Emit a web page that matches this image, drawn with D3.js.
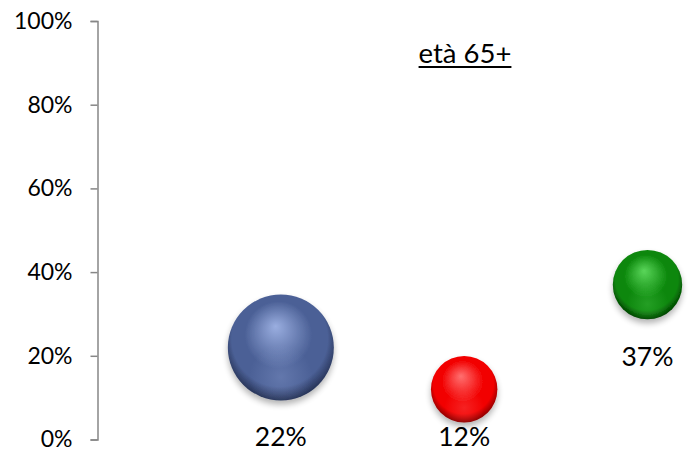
<!DOCTYPE html>
<html>
<head>
<meta charset="utf-8">
<script src="https://cdn.jsdelivr.net/npm/d3@7"></script>
<style>
  html, body { margin: 0; padding: 0; background: #fff; }
  svg { display: block; font-family: Lato, "Open Sans", sans-serif; }
</style>
</head>
<body>
<svg id="chart" width="690" height="452"></svg>
<script>
// Share of respondents aged 65+ per group, drawn as 3-D bubbles
const groups = ["A", "B", "C"];
const xValues = [1, 2, 3];
const shares = [0.22, 0.12, 0.37];
const bubbleSizes = [5.6, 2.2, 2.4];
const bubbleColors = [
  { light: "#9aaee0", base: "#4b6096", dark: "#1c2644" },
  { light: "#ff7070", base: "#f20000", dark: "#6e0000" },
  { light: "#5ad65a", base: "#0b870b", dark: "#002e00" }
];
const yTicks = [0, 0.2, 0.4, 0.6, 0.8, 1];
const title = "età 65+";

const svg = d3.select("#chart");

const x = d3.scaleLinear().domain([0, 3]).range([97.5, 647.5]);
const y = d3.scaleLinear().domain([0, 1]).range([439.5, 21]);
const r = d3.scaleSqrt().domain([0, d3.max(bubbleSizes)]).range([0, 53]);
const pct = d3.format(".0%");

// Defs: sphere shading and a soft drop shadow
const defs = svg.append("defs");
const shadow = defs.append("filter").attr("id", "shadow")
  .attr("x", "-30%").attr("y", "-30%").attr("width", "160%").attr("height", "170%");
shadow.append("feGaussianBlur").attr("in", "SourceAlpha").attr("stdDeviation", 3).attr("result", "b");
shadow.append("feOffset").attr("in", "b").attr("dy", 4).attr("result", "o");
shadow.append("feComponentTransfer").attr("in", "o").attr("result", "s")
  .append("feFuncA").attr("type", "linear").attr("slope", 0.3);
const merge = shadow.append("feMerge");
merge.append("feMergeNode").attr("in", "s");
merge.append("feMergeNode").attr("in", "SourceGraphic");

bubbleColors.forEach((c, i) => {
  const g = defs.append("radialGradient").attr("id", "sphere" + i)
    .attr("cx", "50%").attr("cy", "45%").attr("r", "58%")
    .attr("fx", "45%").attr("fy", "30%");
  g.append("stop").attr("offset", "0%").attr("stop-color", c.light);
  g.append("stop").attr("offset", "55%").attr("stop-color", c.base);
  g.append("stop").attr("offset", "78%").attr("stop-color", c.base);
  g.append("stop").attr("offset", "100%").attr("stop-color", c.dark);
  // lower rim glow
  const h = defs.append("radialGradient").attr("id", "rim" + i)
    .attr("cx", "50%").attr("cy", "78%").attr("r", "30%");
  h.append("stop").attr("offset", "0%").attr("stop-color", c.light).attr("stop-opacity", 0.3);
  h.append("stop").attr("offset", "100%").attr("stop-color", c.light).attr("stop-opacity", 0);
});

// Y axis
const yAxis = d3.axisLeft(y).tickValues(yTicks).tickFormat(pct)
  .tickSize(7).tickSizeOuter(7).tickPadding(18);
const ay = svg.append("g").attr("transform", `translate(${x(0)},0)`).call(yAxis);
ay.selectAll("path, line").attr("stroke", "#868686").attr("stroke-width", 1.5);
ay.selectAll("text").attr("font-size", 23).attr("fill", "#000")
  .attr("font-family", "Lato, 'Open Sans', sans-serif");

// Title
const t = svg.append("text").attr("x", 465).attr("y", 63)
  .attr("text-anchor", "middle").attr("font-size", 27.5).attr("fill", "#000")
  .text(title);
const tb = t.node().getBBox();
svg.append("rect").attr("x", tb.x).attr("y", 66).attr("width", tb.width).attr("height", 2).attr("fill", "#000");

// Bubbles
const data = groups.map((g, i) => ({ g, x: xValues[i], v: shares[i], s: bubbleSizes[i], i }));
const b = svg.append("g").selectAll("g").data(data).join("g")
  .attr("transform", d => `translate(${x(d.x)},${y(d.v)})`);
b.append("circle").attr("r", d => r(d.s)).attr("fill", d => `url(#sphere${d.i})`)
  .attr("filter", "url(#shadow)");
b.append("circle").attr("r", d => r(d.s)).attr("fill", d => `url(#rim${d.i})`);

// Value labels below each bubble, kept inside the chart
svg.append("g").selectAll("text").data(data).join("text")
  .attr("x", d => x(d.x))
  .attr("y", d => Math.min(y(d.v) + r(d.s) + 47, 446))
  .attr("text-anchor", "middle").attr("font-size", 26.5).attr("fill", "#000")
  .text(d => pct(d.v));
</script>
</body>
</html>
